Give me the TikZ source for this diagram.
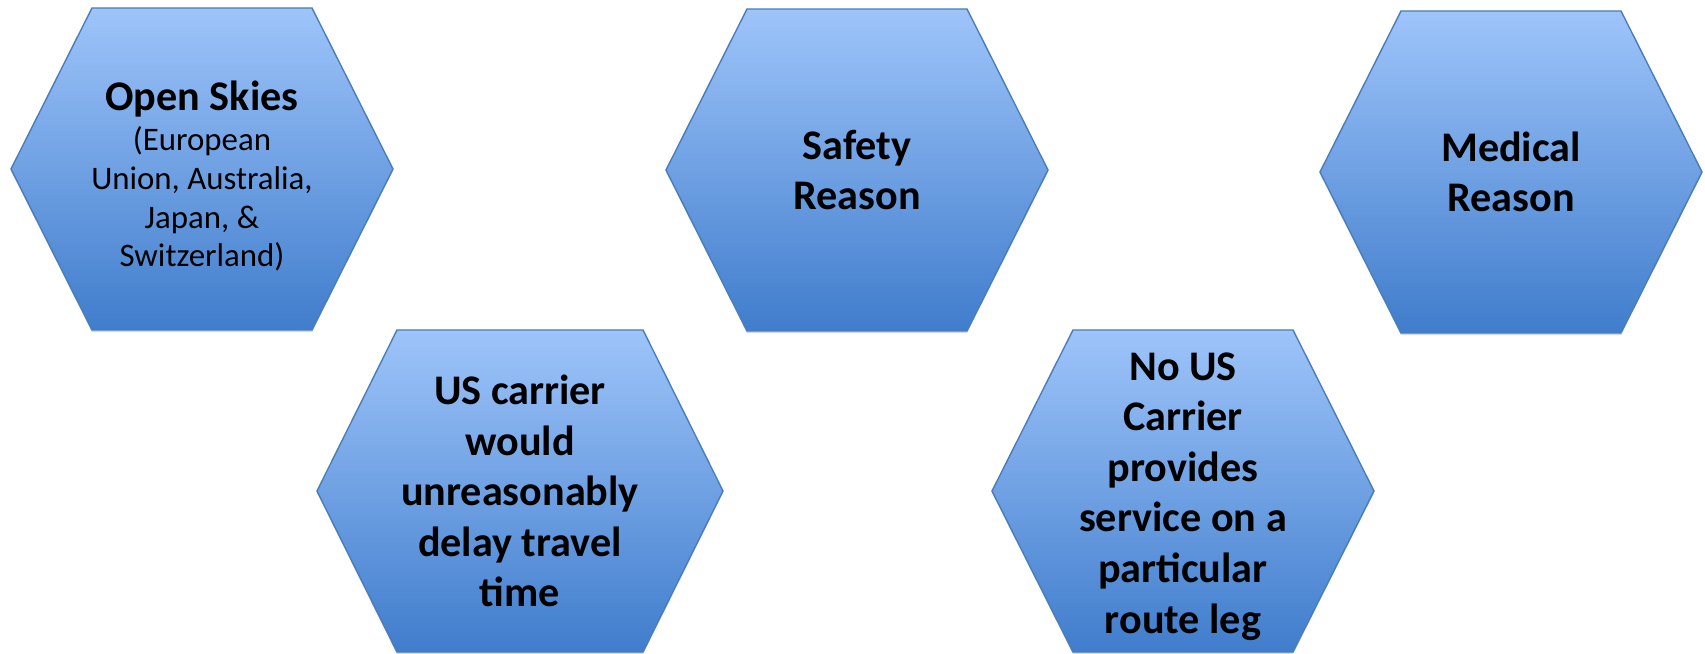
\documentclass[tikz,border=0pt]{standalone}
\usepackage{fontspec}
\setmainfont{Carlito}
\usetikzlibrary{shadows}
\definecolor{hextop}{rgb}{0.62, 0.77, 0.98}
\definecolor{hexbot}{rgb}{0.25, 0.49, 0.80}
\definecolor{hexline}{rgb}{0.29, 0.49, 0.73}
\tikzset{hex/.style = {draw = hexline, line width = 0.8pt, top color = hextop, bottom color = hexbot,
                       drop shadow = {shadow xshift = 0pt, shadow yshift = -1.2pt, opacity = 0.3}}}
\tikzset{hexlabel/.style = {align = center, inner sep = 0, font = \bfseries\fontsize{24}{28.8}\selectfont}}
\tikzset{hexsmall/.style = {align = center, inner sep = 0, font = \fontsize{18.7}{22}\selectfont}}

\begin{document}
\begin{tikzpicture}[x = 0.02cm, y = 0.02cm]
  \useasboundingbox (0, 0) rectangle (1705, 653);
  \foreach \name/\x/\y/\w/\t in {open/202/484/191/110, safety/857/483/191/110,
                                medical/1511/481/191/110, delay/520/162/203/123,
                                noroute/1183/162/191/110} {
    \draw [hex] (\x-\w, \y) -- (\x-\t, \y+161) -- (\x+\t, \y+161) -- (\x+\w, \y)
                -- (\x+\t, \y-161) -- (\x-\t, \y-161) -- cycle;
    \coordinate (\name) at (\x, \y);
  }
  \node [hexsmall] (opentext) at ([yshift = -4] open)
    {{\bfseries\fontsize{24}{26}\selectfont Open Skies}\\[1pt]
     (European\\Union, Australia,\\Japan, \&\\Switzerland)};
  \node [hexlabel] (safetytext) at (safety) {Safety\\Reason};
  \node [hexlabel] (medicaltext) at (medical) {Medical\\Reason};
  \node [hexlabel] (delaytext) at (delay) {US carrier\\would\\unreasonably\\delay travel\\time};
  \node [hexlabel] (noroutetext) at ([yshift = -3] noroute)
    {No US\\Carrier\\provides\\service on a\\particular\\route leg};
\end{tikzpicture}
\end{document}
